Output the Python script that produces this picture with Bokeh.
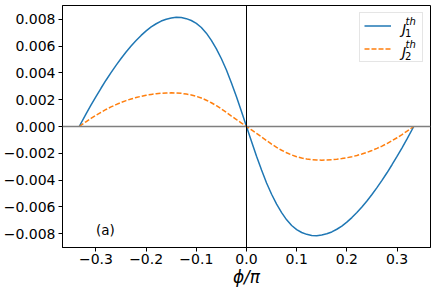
from bokeh.plotting import figure
from bokeh.models import (Span, Label, Legend, LegendItem, FixedTicker,
                          CustomJSTickFormatter, ColumnDataSource, Range1d)
from bokeh.core.properties import value
from bokeh.embed import file_html
from bokeh.resources import INLINE

# phi / pi sample points
phi_neg = [-1/3, -0.32, -0.31, -0.30, -0.29, -0.28, -0.27, -0.26, -0.25, -0.24, -0.23,
           -0.22, -0.21, -0.20, -0.19, -0.18, -0.17, -0.16, -0.15, -0.14, -0.13, -0.12,
           -0.11, -0.10, -0.09, -0.08, -0.07, -0.06, -0.05, -0.04, -0.03, -0.02, -0.01, 0.0]
phi_pos = [0.01, 0.02, 0.03, 0.04, 0.05, 0.06, 0.07, 0.08, 0.09, 0.10, 0.11, 0.12,
           0.13, 0.14, 0.15, 0.16, 0.17, 0.18, 0.19, 0.20, 0.21, 0.22, 0.23, 0.24,
           0.25, 0.26, 0.27, 0.28, 0.29, 0.30, 0.31, 0.32, 1/3]

# J1^th values
j1_neg = [0.0, 0.00093, 0.00159, 0.00223, 0.00285, 0.00345, 0.00402, 0.00456, 0.00507,
          0.00555, 0.00600, 0.00641, 0.00679, 0.00713, 0.00742, 0.00766, 0.00786, 0.00800,
          0.00809, 0.00814, 0.00812, 0.00804, 0.00790, 0.00769, 0.00738, 0.00696, 0.00642,
          0.00578, 0.00505, 0.00421, 0.00325, 0.00221, 0.00111, 0.0]
j1_pos = [-0.00111, -0.00221, -0.00325, -0.00421, -0.00505, -0.00578, -0.00642, -0.00696,
          -0.00738, -0.00769, -0.00790, -0.00804, -0.00812, -0.00814, -0.00809, -0.00800,
          -0.00786, -0.00766, -0.00742, -0.00713, -0.00679, -0.00641, -0.00600, -0.00555,
          -0.00507, -0.00456, -0.00402, -0.00345, -0.00285, -0.00223, -0.00159, -0.00093, 0.0]

# J2^th values
j2_neg = [0.0, 0.00035, 0.00060, 0.00084, 0.00106, 0.00127, 0.00146, 0.00163, 0.00179,
          0.00193, 0.00205, 0.00216, 0.00225, 0.00233, 0.00239, 0.00244, 0.00248, 0.00250,
          0.00251, 0.00250, 0.00247, 0.00242, 0.00235, 0.00225, 0.00212, 0.00196, 0.00177,
          0.00155, 0.00131, 0.00105, 0.00078, 0.00052, 0.00026, 0.0]
j2_pos = [-0.00026, -0.00052, -0.00078, -0.00105, -0.00131, -0.00155, -0.00177, -0.00196,
          -0.00212, -0.00225, -0.00235, -0.00242, -0.00247, -0.00250, -0.00251, -0.00250,
          -0.00248, -0.00244, -0.00239, -0.00233, -0.00225, -0.00216, -0.00205, -0.00193,
          -0.00179, -0.00163, -0.00146, -0.00127, -0.00106, -0.00084, -0.00060, -0.00035, 0.0]

x_ticks = [-0.3, -0.2, -0.1, 0.0, 0.1, 0.2, 0.3]
y_ticks = [-0.008, -0.006, -0.004, -0.002, 0.0, 0.002, 0.004, 0.006, 0.008]

src = ColumnDataSource(dict(phi=phi_neg + phi_pos, j1=j1_neg + j1_pos, j2=j2_neg + j2_pos))

XMIN, XMAX = -0.3667, 0.3667
YMIN, YMAX = -0.00902, 0.00902
FONT = "DejaVu Sans"

p = figure(width=436, height=289, x_range=Range1d(XMIN, XMAX), y_range=Range1d(YMIN, YMAX),
           output_backend="svg", toolbar_location=None,
           min_border_left=4, min_border_right=6, min_border_top=5, min_border_bottom=0)
p.grid.visible = False
p.outline_line_color = "black"
p.outline_line_alpha = 1.0
p.outline_line_width = 1

p.xaxis.ticker = FixedTicker(ticks=x_ticks)
p.yaxis.ticker = FixedTicker(ticks=y_ticks)
p.xaxis.formatter = CustomJSTickFormatter(code="return tick.toFixed(1).replace('-', '\\u2212');")
p.yaxis.formatter = CustomJSTickFormatter(code="return tick.toFixed(3).replace('-', '\\u2212');")
for ax in (p.xaxis, p.yaxis):
    ax.minor_tick_line_color = None
    ax.major_tick_out = 4
    ax.major_tick_in = 0
    ax.major_tick_line_color = "black"
    ax.axis_line_color = "black"
    ax.major_label_text_font = FONT
    ax.major_label_text_font_size = "14px"
    ax.major_label_text_color = "black"
    ax.major_label_standoff = 3
p.xaxis.major_label_standoff = 2
p.xaxis.axis_label = "ϕ/π"
p.xaxis.axis_label_text_font = FONT
p.xaxis.axis_label_text_font_style = "italic"
p.xaxis.axis_label_text_font_size = "17px"
p.xaxis.axis_label_text_color = "black"
p.xaxis.axis_label_standoff = 0

p.add_layout(Span(location=0, dimension="width", line_color="#7f7f7f", line_width=1.6))
p.add_layout(Span(location=0, dimension="height", line_color="black", line_width=1))

r1 = p.line("phi", "j1", source=src, line_color="#1f77b4", line_width=1.5)
r2 = p.line("phi", "j2", source=src, line_color="#ff7f0e", line_width=1.5, line_dash="5 2")

legend = Legend(items=[LegendItem(label=value(" "), renderers=[r1]),
                       LegendItem(label=value("  "), renderers=[r2])],
                location="top_right", glyph_width=27, glyph_height=17, label_width=22,
                label_standoff=5, padding=4, spacing=6, margin=7,
                border_line_color="#cccccc", border_line_width=1,
                background_fill_color=None, label_text_font_size="13px")
p.add_layout(legend)

# legend texts J_1^th, J_2^th, placed by pixel offsets from the frame's top-right corner
for k, sub in enumerate(["1", "2"]):
    dy = 23.3 * k
    common = dict(x=XMAX, y=YMAX, text_font=FONT, text_baseline="middle",
                  text_align="left", text_color="black")
    p.add_layout(Label(x_offset=-28.5, y_offset=-(23 + dy), text="J", text_font_style="italic",
                       text_font_size="14px", **common))
    p.add_layout(Label(x_offset=-25, y_offset=-(15.5 + dy), text="th", text_font_style="italic",
                       text_font_size="10px", **common))
    p.add_layout(Label(x_offset=-25.5, y_offset=-(27.5 + dy), text=sub,
                       text_font_size="10px", **common))

p.add_layout(Label(x=-0.3, y=-0.0077, text="(a)", text_font=FONT, text_font_size="13.5px",
                   text_baseline="middle", text_align="left", text_color="black"))

open("out.html", "w").write(file_html(p, INLINE))
